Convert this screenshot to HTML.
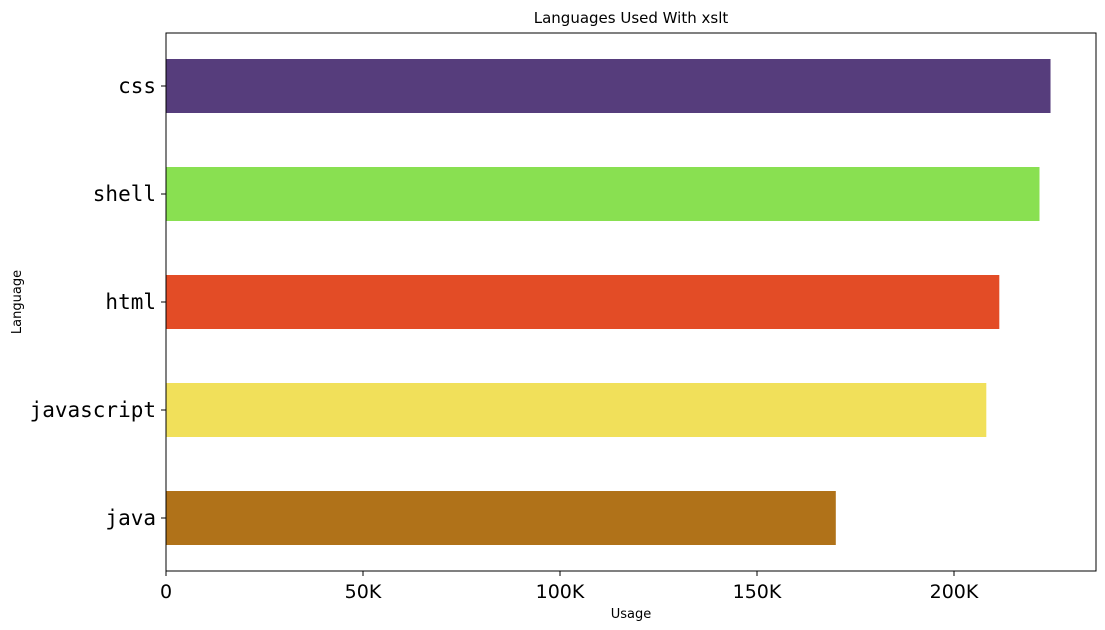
<!DOCTYPE html>
<html><head><meta charset="utf-8"><style>
body{margin:0;background:#fff;}
svg{display:block;}
</style></head><body>
<svg id="chart" width="1105" height="630" xmlns="http://www.w3.org/2000/svg"></svg>
<script>
const categories = ["css","shell","html","javascript","java"];
const values = [224500, 221700, 211500, 208200, 170000];
const colors = ["#563d7c","#89e051","#e34c26","#f1e05a","#b07219"];
const tickValues = [0, 50000, 100000, 150000, 200000];
const tickLabels = ["0","50K","100K","150K","200K"];

const svg = document.getElementById('chart');
const NS = 'http://www.w3.org/2000/svg';
const L = 166, R = 1096, T = 33, B = 571;
const xs = v => L + v * (197 / 50000);
const band = 108, barH = 54;
const yc = i => 86 + i * band;

function mk(tag, attrs, text) {
  const e = document.createElementNS(NS, tag);
  for (const k in attrs) e.setAttribute(k, attrs[k]);
  if (text !== undefined) e.textContent = text;
  svg.appendChild(e);
  return e;
}

categories.forEach((c, i) => {
  const r = mk('rect', {x: xs(0), y: yc(i) - barH / 2, width: xs(values[i]) - xs(0), height: barH, fill: colors[i]});
  
  
  const tk = mk('line', {x1: L - 5, x2: L, y1: yc(i), y2: yc(i), stroke: '#000', 'stroke-width': 1});
  
  
  const t = mk('text', {x: L - 10, y: yc(i) + 7, 'text-anchor': 'end', 'font-family': 'DejaVu Sans Mono, Liberation Mono, monospace', 'font-size': 21}, c);
  
  
});

tickValues.forEach((v, i) => {
  const tk = mk('line', {x1: xs(v), x2: xs(v), y1: B, y2: B + 5, stroke: '#000', 'stroke-width': 1});
  
  
  const t = mk('text', {x: xs(v), y: B + 27, 'text-anchor': 'middle', 'font-family': 'DejaVu Sans, Liberation Sans, sans-serif', 'font-size': 19}, tickLabels[i]);
  
  
});

const frame = mk('rect', {x: L, y: T, width: R - L, height: B - T, fill: 'none', stroke: '#000', 'stroke-width': 1});



const title = mk('text', {x: (L + R) / 2, y: 23, 'text-anchor': 'middle', 'font-family': 'DejaVu Sans, Liberation Sans, sans-serif', 'font-size': 15}, 'Languages Used With xslt');



const xt = mk('text', {x: (L + R) / 2, y: 618, 'text-anchor': 'middle', 'font-family': 'DejaVu Sans, Liberation Sans, sans-serif', 'font-size': 13}, 'Usage');



const yt = mk('text', {x: 0, y: 0, transform: 'translate(21,302) rotate(-90)', 'text-anchor': 'middle', 'font-family': 'DejaVu Sans, Liberation Sans, sans-serif', 'font-size': 13}, 'Language');


</script>
</body></html>
